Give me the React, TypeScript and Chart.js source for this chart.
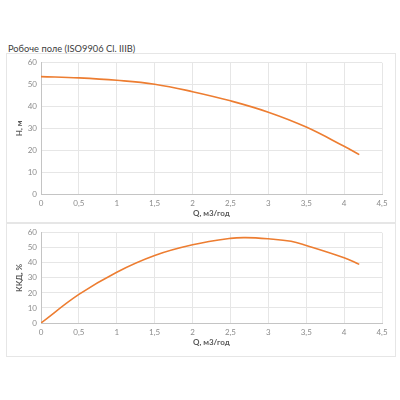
import React, { useEffect, useRef } from "react";
import { Chart, registerables } from "chart.js";

Chart.register(...registerables);

const titleText = "Робоче поле (ISO9906 Cl. IIIB)";
const flowQ = [0, 0.5, 1, 1.5, 2, 2.5, 3, 3.5, 4, 4.2];
const headH = [53.7, 53.1, 52, 50.2, 46.8, 42.6, 37.4, 30.6, 21.8, 18];
const effQ = [0, 0.5, 1, 1.5, 2, 2.5, 2.7, 3, 3.3, 3.5, 4, 4.2];
const effVals = [0, 19, 33.8, 44.9, 52, 56.3, 56.8, 56, 54.4, 51.6, 43.4, 39];
const xTitle = "Q, м3/год";
const yTitleTop = "H, м";
const yTitleBottom = "ККД, %";

const FONT = "Lato, 'Open Sans', sans-serif";
const ORANGE = "#ED7D31";

function makeConfig(xs: number[], ys: number[], yTitle: string, bottomPad: number): any {
  return {
    type: "line",
    data: {
      datasets: [
        {
          data: xs.map((x, i) => ({ x, y: ys[i] })),
          borderColor: ORANGE,
          borderWidth: 1.6,
          pointRadius: 0,
          tension: 0.4,
          fill: false,
        },
      ],
    },
    options: {
      animation: false,
      responsive: false,
      maintainAspectRatio: false,
      layout: { padding: { left: 0, right: 13, top: 7, bottom: bottomPad } },
      plugins: { legend: { display: false }, tooltip: { enabled: false } },
      scales: {
        x: {
          type: "linear",
          min: 0,
          max: 4.5,
          ticks: {
            stepSize: 0.5,
            padding: 5,
            color: "#8c8c8c",
            font: { family: FONT, size: 8 },
            callback: (v: number) => String(v).replace(".", ","),
          },
          grid: { color: "#e6e6e6", drawTicks: false },
          border: { color: "#c4c4c4" },
          title: {
            display: true,
            text: xTitle,
            color: "#595959",
            font: { family: FONT, size: 8, weight: "bold" },
            padding: { top: 0, bottom: 4 },
          },
          afterFit: (s: any) => {
            s.height = 28;
          },
        },
        y: {
          min: 0,
          max: 60,
          ticks: {
            stepSize: 10,
            padding: 4,
            color: "#8c8c8c",
            font: { family: FONT, size: 8 },
          },
          grid: { color: "#e6e6e6", drawTicks: false },
          border: { color: "#c4c4c4" },
          title: {
            display: true,
            text: yTitle,
            color: "#595959",
            font: { family: FONT, size: 8, weight: "bold" },
            padding: { top: 8, bottom: 0 },
          },
          afterFit: (s: any) => {
            s.width = 34;
          },
        },
      },
    },
  };
}

function ChartBox(props: { xs: number[]; ys: number[]; yTitle: string; top: number; height: number; bottomPad: number }) {
  const ref = useRef<HTMLCanvasElement>(null);
  useEffect(() => {
    const c = new Chart(ref.current as HTMLCanvasElement, makeConfig(props.xs, props.ys, props.yTitle, props.bottomPad));
    return () => c.destroy();
  }, []);
  return (
    <div
      style={{
        position: "absolute",
        left: 6,
        top: props.top,
        width: 390,
        height: props.height,
        border: "1px solid #e6e6e6",
        boxSizing: "border-box",
        background: "#fff",
      }}
    >
      <canvas ref={ref} width={388} height={props.height - 2} style={{ display: "block" }} />
    </div>
  );
}

export default function App() {
  return (
    <div style={{ position: "absolute", left: 0, top: 0, width: 400, height: 400, background: "#fff" }}>
      <ChartBox xs={flowQ} ys={headH} yTitle={yTitleTop} top={53} height={170} bottomPad={0} />
      <ChartBox xs={effQ} ys={effVals} yTitle={yTitleBottom} top={223} height={134} bottomPad={5} />
      <div
        style={{
          position: "absolute",
          left: 8,
          top: 44,
          fontFamily: FONT,
          fontSize: 9.3,
          lineHeight: "10px",
          color: "#404040",
          whiteSpace: "nowrap",
        }}
      >
        {titleText}
      </div>
    </div>
  );
}
